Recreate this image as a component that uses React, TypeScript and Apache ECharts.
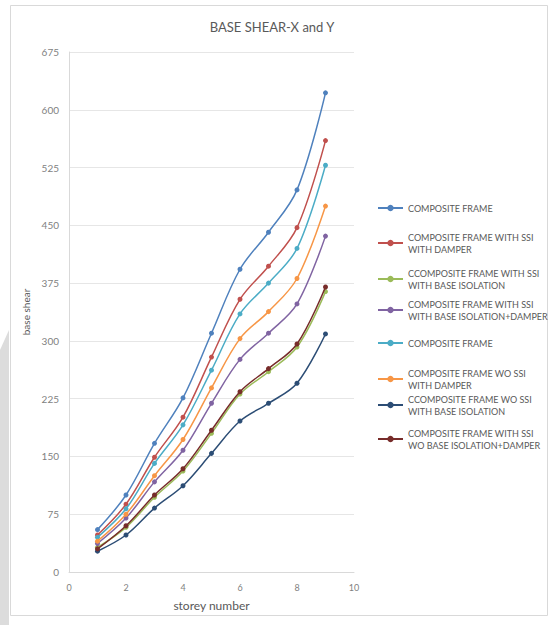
import React, { useEffect, useRef } from "react";
import * as echarts from "echarts";

// storey numbers along the x axis
const storeys = [1, 2, 3, 4, 5, 6, 7, 8, 9];

// base shear per storey for each frame configuration
const compositeFrameA = [55, 100, 167, 226, 310, 393, 441, 496, 622];
const withSsiDamper = [48, 88, 149, 201, 279, 354, 397, 447, 560];
const withSsiBaseIsolation = [32, 58, 97, 131, 180, 231, 260, 292, 364];
const withSsiIsolationDamper = [37, 70, 117, 158, 219, 276, 310, 348, 436];
const compositeFrameB = [45, 82, 141, 191, 262, 335, 375, 420, 528];
const woSsiDamper = [40, 75, 125, 172, 239, 303, 338, 381, 475];
const woSsiBaseIsolation = [27, 48, 83, 112, 154, 196, 219, 245, 309];
const withSsiWoIsolationDamper = [30, 60, 100, 134, 184, 234, 264, 296, 370];

const seriesValues = [
  compositeFrameA,
  withSsiDamper,
  withSsiBaseIsolation,
  withSsiIsolationDamper,
  compositeFrameB,
  woSsiDamper,
  woSsiBaseIsolation,
  withSsiWoIsolationDamper,
];

const legendLabels = [
  "COMPOSITE FRAME",
  "COMPOSITE FRAME WITH SSI\nWITH DAMPER",
  "CCOMPOSITE FRAME WITH SSI\nWITH BASE ISOLATION",
  "COMPOSITE FRAME WITH SSI\nWITH BASE ISOLATION+DAMPER",
  "COMPOSITE FRAME",
  "COMPOSITE FRAME WO SSI\nWITH DAMPER",
  "CCOMPOSITE FRAME WO SSI\nWITH BASE ISOLATION",
  "COMPOSITE FRAME WITH SSI\nWO BASE ISOLATION+DAMPER",
];

const seriesColors = [
  "#4F81BD",
  "#C0504D",
  "#9BBB59",
  "#8064A2",
  "#4BACC6",
  "#F79646",
  "#2C4D75",
  "#772C2A",
];

// vertical centre of the first text line of each legend entry
const legendLineY = [208, 243, 279, 310, 343, 379, 405, 439];

const yTicks = { min: 0, max: 675, interval: 75 };
const xTicks = { min: 0, max: 10, interval: 2 };

const FONT = "Lato, 'Open Sans', sans-serif";
const TEXT_GREY = "#595959";
const LINE_H = 12;

export default function App() {
  const ref = useRef<HTMLDivElement>(null);

  useEffect(() => {
    if (!ref.current) return;
    const chart = echarts.init(ref.current, undefined, { renderer: "svg" });

    const names = legendLabels.map((l, i) => `${i + 1}:${l}`);

    const series = seriesValues.map((vals, i) => ({
      name: names[i],
      type: "line",
      data: storeys.map((s, k) => [s, vals[k]]),
      smooth: 0.35,
      symbol: "circle",
      symbolSize: 5,
      showSymbol: true,
      lineStyle: { width: 1.5, color: seriesColors[i] },
      itemStyle: { color: seriesColors[i] },
      z: 2 + i,
    }));

    const legends = legendLabels.map((label, i) => {
      const twoLines = label.includes("\n");
      return {
        orient: "vertical",
        left: 377,
        top: twoLines ? legendLineY[i] - LINE_H * 1.5 : legendLineY[i] - LINE_H / 2,
        padding: 0,
        itemWidth: 25,
        itemHeight: 8,
        itemGap: 0,
        selectedMode: false,
        data: [names[i]],
        formatter: () => label,
        textStyle: {
          fontFamily: FONT,
          fontSize: 9,
          color: TEXT_GREY,
          lineHeight: LINE_H,
          padding: twoLines ? [LINE_H, 0, 0, 0] : 0,
        },
      };
    });

    chart.setOption({
      animation: false,
      backgroundColor: "#ffffff",
      title: {
        text: "BASE SHEAR-X and Y",
        left: 272,
        top: 20,
        padding: 0,
        textAlign: "center",
        textStyle: {
          fontFamily: FONT,
          fontSize: 13,
          fontWeight: "normal",
          color: TEXT_GREY,
        },
      },
      legend: legends,
      grid: { left: 69, right: 196, top: 52, bottom: 53 },
      xAxis: {
        type: "value",
        min: xTicks.min,
        max: xTicks.max,
        interval: xTicks.interval,
        name: "storey number",
        nameLocation: "middle",
        nameGap: 27,
        nameTextStyle: { fontFamily: FONT, fontSize: 12, color: TEXT_GREY },
        axisLine: { show: true, lineStyle: { color: "#D9D9D9" } },
        axisTick: { show: false },
        splitLine: { show: false },
        axisLabel: { fontFamily: FONT, fontSize: 9, color: "#7f7f7f", margin: 11 },
      },
      yAxis: {
        type: "value",
        min: yTicks.min,
        max: yTicks.max,
        interval: yTicks.interval,
        name: "base shear",
        nameLocation: "middle",
        nameGap: 32,
        nameTextStyle: { fontFamily: FONT, fontSize: 10, color: TEXT_GREY },
        axisLine: { show: true, lineStyle: { color: "#D9D9D9" } },
        axisTick: { show: false },
        splitLine: { show: true, lineStyle: { color: "#E6E6E6" } },
        axisLabel: { fontFamily: FONT, fontSize: 10, color: "#7f7f7f", margin: 10 },
      },
      graphic: [
        {
          type: "rect",
          shape: { x: 10.5, y: 5.5, width: 537, height: 610 },
          style: { fill: "none", stroke: "#D9D9D9", lineWidth: 1 },
          silent: true,
          z: -1,
        },
        {
          type: "polygon",
          shape: { points: [[0, 350], [9, 330], [9, 625], [0, 625]] },
          style: { fill: "#DCDCDC" },
          silent: true,
          z: -1,
        },
      ],
      series,
    });

    return () => chart.dispose();
  }, []);

  return (
    <div
      ref={ref}
      style={{ position: "fixed", left: 0, top: 0, width: 550, height: 625 }}
    />
  );
}
